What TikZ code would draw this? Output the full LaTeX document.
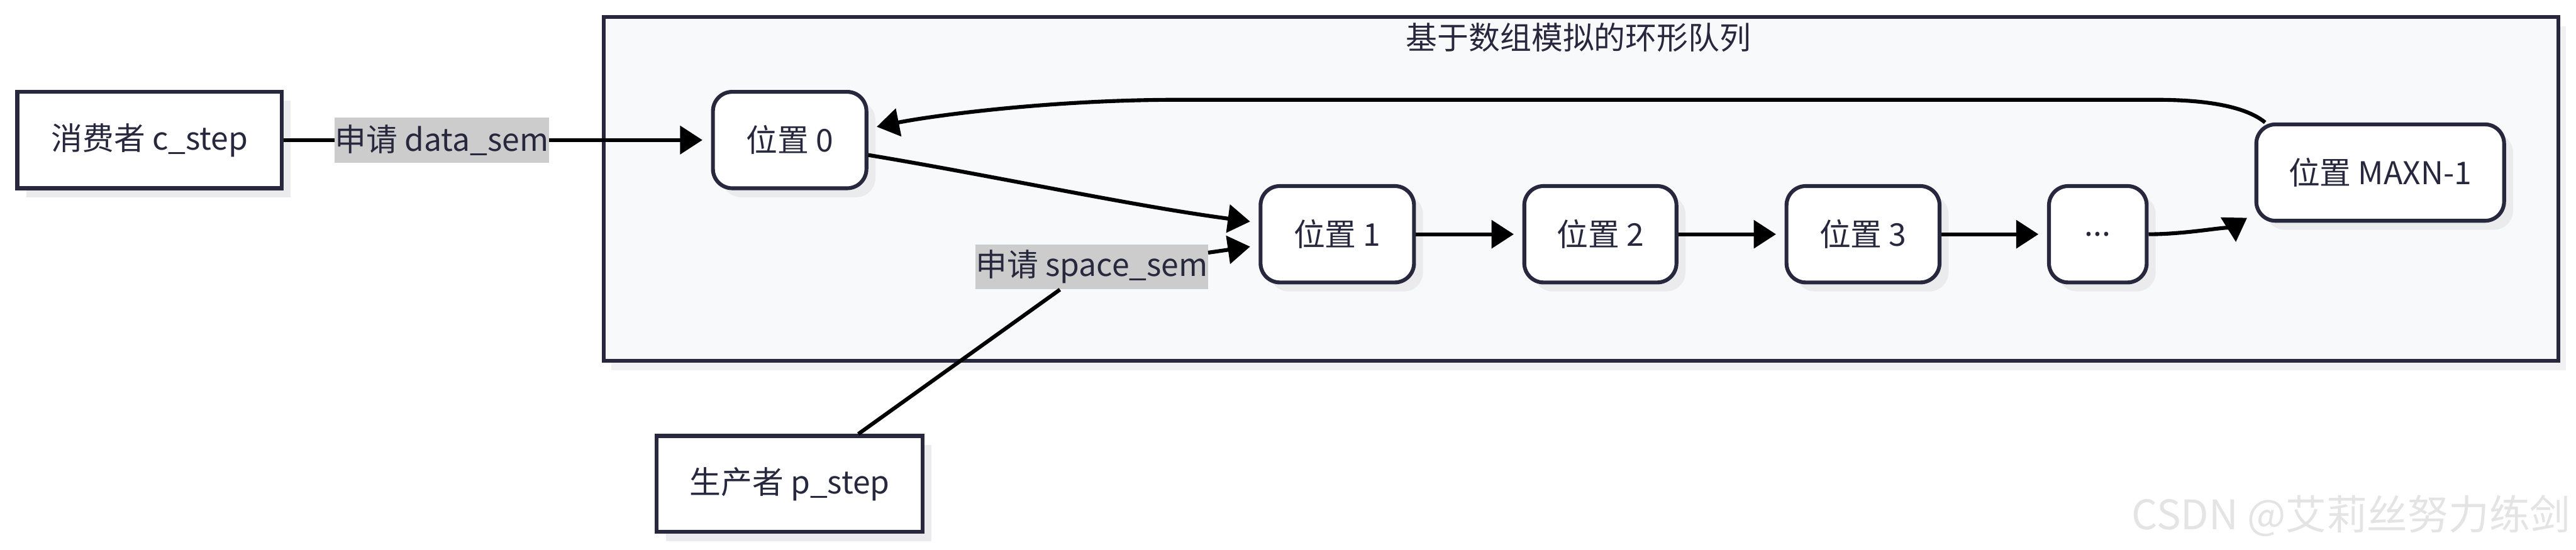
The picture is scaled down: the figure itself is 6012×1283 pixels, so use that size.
\documentclass[tikz,border=0pt]{standalone}
\usepackage{fontspec}
\setmainfont{Noto Sans CJK SC}
\usetikzlibrary{arrows.meta,shadows}
\definecolor{ink}{HTML}{27283D}
\definecolor{panel}{HTML}{F8F9FB}
\definecolor{shade}{HTML}{EBEBEE}
\definecolor{tagfill}{HTML}{CCCCCC}
\definecolor{wmgray}{HTML}{E4E4E4}
\begin{document}
\begin{tikzpicture}[x=0.01cm, y=-0.01cm,
  every node/.style={font=\fontsize{20.8pt}{25pt}\selectfont, text=ink},
  actor/.style={draw=ink, line width=0.09cm, fill=white, minimum width=6.17cm, minimum height=2.25cm,
    general shadow={fill=shade, shadow xshift=0.21cm, shadow yshift=-0.21cm}},
  slot/.style={actor, rounded corners=0.45cm, minimum width=3.58cm},
  tag/.style={fill=tagfill, inner sep=0pt, minimum height=1.05cm},
  arr/.style={line width=0.09cm, shorten >=0.2cm, -{Triangle[length=0.52cm, width=0.65cm]}},
]
  \fill[white] (0,0) rectangle (6012,1283);
  \useasboundingbox (0,0) rectangle (6012,1283);
  % cluster
  \draw[draw=ink, line width=0.09cm, fill=panel,
    general shadow={fill=shade!70, shadow xshift=0.18cm, shadow yshift=-0.22cm}]
    (1409,40) rectangle (5971,842);
  \node (title) at (3684,88) {基于数组模拟的环形队列};
  % queue slots
  \node[slot] (p0) at (1843,327) {位置 0};
  \node[slot] (p1) at (3121,547) {位置 1};
  \node[slot, minimum width=3.55cm] (p2) at (3735,547) {位置 2};
  \node[slot, minimum width=3.57cm] (p3) at (4348,547) {位置 3};
  \node[slot, minimum width=2.28cm] (dots) at (4896,547) {...};
  \node[slot, minimum width=5.78cm] (maxn) at (5555,403) {位置 MAXN-1};
  % consumer and producer
  \node[actor] (cons) at (349,327) {消费者 c\_step};
  \node[actor, minimum width=6.2cm, minimum height=2.24cm] (prod) at (1843,1130) {生产者 p\_step};
  % edges
  \draw[arr] (cons) -- node[tag, pos=0.37, minimum width=5cm] (ldata) {申请 data\_sem} (p0);
  \node[tag, minimum width=5.34cm] (lspace) at (2548,623) {申请 space\_sem};
  \draw[line width=0.09cm] ([xshift=1.6cm]prod.north) -- (lspace);
  \draw[arr] ([yshift=0.33cm]lspace.east) -- ([yshift=-0.26cm]p1.west);
  \draw[arr] ([yshift=-0.35cm]p0.east) .. controls +(300,50) and +(-300,-40) .. ([yshift=0.27cm]p1.west);
  \foreach \a/\b in {p1/p2,p2/p3,p3/dots}
    \draw[arr] (\a) -- (\b);
  \draw[arr] (dots.east) .. controls +(100,0) and +(-40,25) .. ([yshift=-0.95cm]maxn.west);
  % wrap around
  \coordinate (ret1) at (5030,233);
  \coordinate (ret2) at (2750,233);
  \draw[arr] ([xshift=0.25cm]maxn.north west) .. controls +(-60,-50) and +(60,0) .. (ret1)
    -- (ret2) .. controls +(-300,0) and +(150,-30) .. ([yshift=0.27cm]p0.east);
  % watermark
  \node[font=\fontsize{27pt}{32pt}\selectfont, text=wmgray, inner sep=0pt, anchor=east] (wm) at (6000,1205) {CSDN @艾莉丝努力练剑};
\end{tikzpicture}
\end{document}
